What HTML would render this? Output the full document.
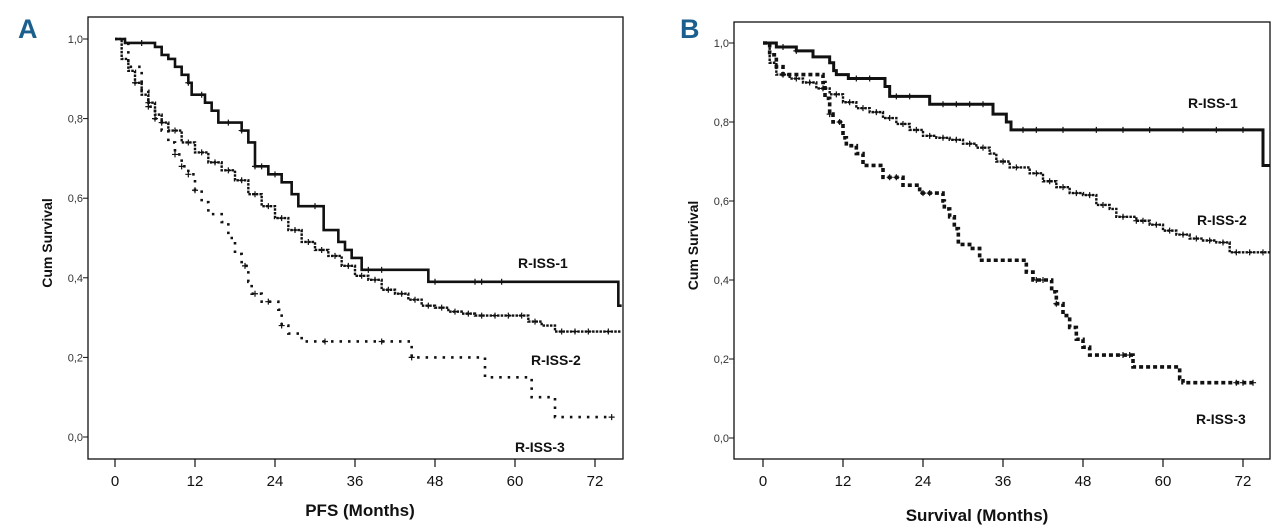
<!DOCTYPE html>
<html><head><meta charset="utf-8">
<style>
html,body{margin:0;padding:0;background:#fff;}
svg{display:block;font-family:"Liberation Sans",Arial,sans-serif;}
.tick{font-size:11px;fill:#333;}
.xt{font-size:15px;fill:#111;}
.ttl{font-size:17px;font-weight:bold;fill:#111;}
.yt{font-size:14px;font-weight:bold;fill:#111;}
.lab{font-size:14px;font-weight:bold;fill:#111;}
.pl{font-family:"Liberation Sans Narrow","Liberation Sans",sans-serif;font-size:27px;font-weight:bold;fill:#1a5f8e;}
</style></head>
<body>
<svg id="chart" width="1280" height="528"></svg>
<script>
// Panel A (PFS)
const xTicks=[0,12,24,36,48,60,72];
const yTicks=[0,0.2,0.4,0.6,0.8,1.0];
const yTickLabels=["0,0","0,2","0,4","0,6","0,8","1,0"];
const a1T=[0,1.5,6,7,8,9,10,11,11.5,13.5,14.5,15.5,19,20,21,23,25,26.5,27.5,31.3,33.5,34.5,35.5,37,47,75.5,76];
const a1S=[1,0.99,0.98,0.96,0.95,0.93,0.91,0.89,0.86,0.84,0.82,0.79,0.77,0.74,0.68,0.66,0.64,0.61,0.58,0.52,0.49,0.47,0.45,0.42,0.39,0.33,0.33];
const a2T=[0,1,2,3,4,5,6,7,8,10,12,14,16,18,20,22,24,26,28,30,32,34,36,38,40,42,44,46,48,50,52,54,60,62,64,66,76];
const a2S=[1,0.95,0.92,0.89,0.86,0.84,0.81,0.79,0.77,0.74,0.715,0.69,0.67,0.645,0.61,0.58,0.55,0.52,0.49,0.47,0.455,0.43,0.405,0.395,0.37,0.36,0.345,0.33,0.325,0.315,0.31,0.305,0.305,0.29,0.28,0.265,0.265];
const a3T=[0,2,4,5,6,7,8,9,10,11,12,13,14,16,17,18,19,20,20.5,22,24.5,25,26,28,44.5,55.5,62.5,66,74.5];
const a3S=[1,0.93,0.87,0.83,0.8,0.77,0.74,0.71,0.68,0.66,0.62,0.59,0.56,0.54,0.5,0.46,0.43,0.39,0.36,0.34,0.32,0.28,0.26,0.24,0.2,0.15,0.1,0.05,0.05];
const a1C=[4,11,13,17,19,21,22,24,30,38,40,48,54,55,58];
const a2C=[3,5,7,9,11,13,15,17,19,21,23,25,27,29,31,33,35,37,39,41,43,45,47,49,51,53,55,57,59,61,63,67,69,71,74];
const a3C=[5,6,9,10,11,12,19.5,21,23,25,31.5,40,44.5,74.5];
// Panel B (OS)
const b1T=[0,2,5,7.5,10,10.6,11,12.8,18.3,19,25,34.5,36.5,37.2,75,76];
const b1S=[1,0.99,0.98,0.965,0.95,0.93,0.92,0.91,0.89,0.865,0.845,0.82,0.80,0.78,0.69,0.69];
const b2T=[0,1,2,4,6,8,10,12,14,16,18,20,22,24,26,28,30,32,34,35,37,40,42,44,46,48,50,52,53,56,58,60,62,64,66,68,70,76];
const b2S=[1,0.95,0.92,0.91,0.90,0.885,0.87,0.85,0.835,0.825,0.81,0.795,0.78,0.765,0.76,0.755,0.745,0.735,0.72,0.70,0.685,0.67,0.65,0.635,0.62,0.615,0.59,0.58,0.56,0.55,0.54,0.525,0.515,0.505,0.5,0.495,0.47,0.47];
const b3T=[0,1,2,3,9,9.3,10,10.5,12,12.5,14,15,18,21,23.5,27,27.2,28,28.7,29.3,31,32.5,39.5,40.5,43.3,44,45,46,47,48,49,55.5,62.5,63,74];
const b3S=[1,0.97,0.94,0.92,0.90,0.86,0.82,0.80,0.76,0.74,0.72,0.69,0.66,0.64,0.62,0.6,0.58,0.56,0.53,0.49,0.48,0.45,0.42,0.40,0.37,0.34,0.31,0.28,0.25,0.23,0.21,0.18,0.15,0.14,0.14];
const b1C=[3,5,14,16,20,22,27,29,31,33,39,41,45,50,54,58,63,68,72];
const b2C=[3,5,7,9,11,13,15,17,19,21,23,25,27,29,31,33,36,38,41,43,45,47,49,51,54,56,57,59,61,63,65,67,69,71,73,75];
const b3C=[10,11.5,19,20,24,25,41,42,44,54,55,71,72,73.5];

const NS="http://www.w3.org/2000/svg";
const svg=document.getElementById('chart');
function el(tag,attrs,parent){const e=document.createElementNS(NS,tag);for(const k in attrs)e.setAttribute(k,attrs[k]);(parent||svg).appendChild(e);return e;}

function panel(cfg){
  const g=el('g',{});
  
  
  const xs=t=>cfg.x0+t*80/12;
  const ys=s=>cfg.y0-s*(cfg.y0-cfg.y1);
  const box=el('rect',{x:cfg.L,y:cfg.T,width:cfg.R-cfg.L,height:cfg.B-cfg.T,fill:'none',stroke:'#111','stroke-width':1.3},g);
  
  
  const pl=el('text',{x:cfg.px,y:38,class:'pl'},g);pl.textContent=cfg.letter;
  
  
  yTicks.forEach((v,i)=>{
    el('line',{x1:cfg.L-5,x2:cfg.L,y1:ys(v),y2:ys(v),stroke:'#111','stroke-width':1},g);
    const t=el('text',{x:cfg.L-5,y:ys(v)+4,class:'tick','text-anchor':'end'},g);t.textContent=yTickLabels[i];
    
    
  });
  xTicks.forEach(v=>{
    el('line',{x1:xs(v),x2:xs(v),y1:cfg.B,y2:cfg.B+8,stroke:'#111','stroke-width':1.2},g);
    const t=el('text',{x:xs(v),y:cfg.B+27,class:'xt','text-anchor':'middle'},g);t.textContent=v;
    
    
  });
  const xt=el('text',{x:cfg.xtx,y:cfg.xty,class:'ttl','text-anchor':'middle'},g);xt.textContent=cfg.xtitle;
  
  
  const yt=el('text',{x:0,y:0,class:'yt','text-anchor':'middle',transform:`translate(${cfg.L-36},${(cfg.T+cfg.B)/2+5}) rotate(-90)`},g);yt.textContent='Cum Survival';
  
  
  cfg.series.forEach(s=>{
    let d=`M${xs(s.t[0])},${ys(s.s[0])}`;
    for(let i=1;i<s.t.length;i++){d+=`H${xs(s.t[i])}V${ys(s.s[i])}`;}
    const p=el('path',{d:d,fill:'none',stroke:'#111','stroke-width':s.w,'stroke-dasharray':s.dash||'none'},g);
    
    
    (s.c||[]).forEach(ct=>{
      let v=s.s[0];for(let i=0;i<s.t.length;i++){if(s.t[i]<=ct)v=s.s[i];}
      const m=el('path',{d:`M${xs(ct)-3},${ys(v)}h6M${xs(ct)},${ys(v)-3}v6`,stroke:'#111','stroke-width':1.2},g);
      
      
    });
    const lb=el('text',{x:s.lx,y:s.ly,class:'lab'},g);lb.textContent=s.label;
    
    
  });
}
panel({name:'panel-a-pfs',letter:'A',px:18,L:88,T:17,R:623,B:459,x0:115,y0:437,y1:39,xtitle:'PFS (Months)',xtx:360,xty:516,
  series:[
    {name:'r-iss-1-curve',t:a1T,s:a1S,w:2.6,c:a1C,label:'R-ISS-1',lx:518,ly:268},
    {name:'r-iss-2-curve',t:a2T,s:a2S,w:2.4,dash:'2.5 1.2',c:a2C,label:'R-ISS-2',lx:531,ly:365},
    {name:'r-iss-3-curve',t:a3T,s:a3S,w:2.6,dash:'2.5 6',c:a3C,label:'R-ISS-3',lx:515,ly:452}
  ]});
panel({name:'panel-b-os',letter:'B',px:680,L:734,T:22,R:1270,B:459,x0:763,y0:438,y1:43,xtitle:'Survival (Months)',xtx:977,xty:521,
  series:[
    {name:'r-iss-1-curve',t:b1T,s:b1S,w:3,c:b1C,label:'R-ISS-1',lx:1188,ly:108},
    {name:'r-iss-2-curve',t:b2T,s:b2S,w:2.4,dash:'2.5 1.2',c:b2C,label:'R-ISS-2',lx:1197,ly:225},
    {name:'r-iss-3-curve',t:b3T,s:b3S,w:3.6,dash:'4 3',c:b3C,label:'R-ISS-3',lx:1196,ly:424}
  ]});
</script>
</body></html>
